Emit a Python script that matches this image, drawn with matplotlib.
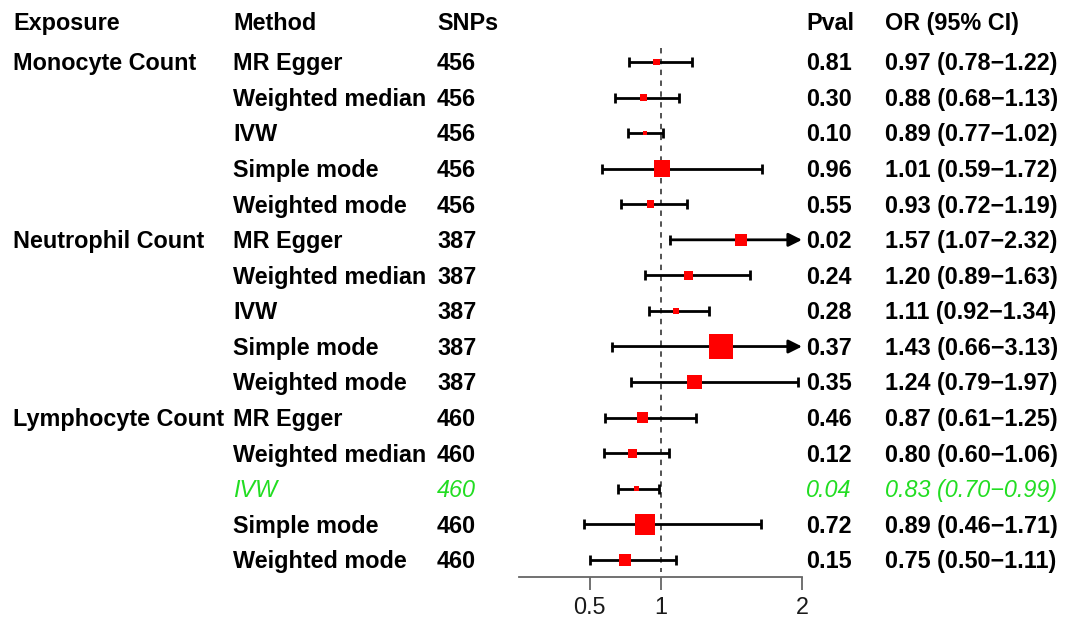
import numpy as np
import matplotlib
matplotlib.use("Agg")
import matplotlib.pyplot as plt
from matplotlib.transforms import blended_transform_factory, offset_copy

# data
exposure = ["Monocyte Count", "", "", "", "",
            "Neutrophil Count", "", "", "", "",
            "Lymphocyte Count", "", "", "", ""]
method = ["MR Egger", "Weighted median", "IVW", "Simple mode", "Weighted mode"] * 3
snps = [456] * 5 + [387] * 5 + [460] * 5
pval = [0.81, 0.30, 0.10, 0.96, 0.55,
        0.02, 0.24, 0.28, 0.37, 0.35,
        0.46, 0.12, 0.04, 0.72, 0.15]
odds = [0.97, 0.88, 0.89, 1.01, 0.93,
        1.57, 1.20, 1.11, 1.43, 1.24,
        0.87, 0.80, 0.83, 0.89, 0.75]
lower = [0.78, 0.68, 0.77, 0.59, 0.72,
         1.07, 0.89, 0.92, 0.66, 0.79,
         0.61, 0.60, 0.70, 0.46, 0.50]
upper = [1.22, 1.13, 1.02, 1.72, 1.19,
         2.32, 1.63, 1.34, 3.13, 1.97,
         1.25, 1.06, 0.99, 1.71, 1.11]
headers = ["Exposure", "Method", "SNPs", "Pval", "OR (95% CI)"]
xticks = [0.5, 1, 2]
xmax = 2

font = "Liberation Sans"
fs = 16.8
green = "#22dd22"

n = len(method)
rows = np.arange(1, n + 1)
odds_a = np.array(odds)
low_a = np.array(lower)
up_a = np.array(upper)

fig = plt.figure(figsize=(10.65, 6.21), dpi=100)
ax = fig.add_axes([519 / 1065, 44 / 621, 283 / 1065, 577 / 621])
ax.set_xlim(0, xmax)
ax.set_ylim(15.48, -0.743)

for s in ["top", "left", "right"]:
    ax.spines[s].set_visible(False)
ax.spines["bottom"].set_color("#666666")
ax.spines["bottom"].set_linewidth(1.3)
ax.set_yticks([])
ax.set_xticks(xticks)
ax.set_xticklabels([f"{t:g}" for t in xticks], fontsize=fs, family=font, color="#1a1a1a")
ax.tick_params(axis="x", length=9.5, width=1.3, color="#666666", pad=4)

# reference line at OR = 1
ax.vlines(1, 0.61, 15.34, colors="#444444", linestyles=(0, (3, 3)), linewidth=1.3, zorder=1)

# confidence intervals
lw = 2.0
clipped = up_a > xmax
ax.hlines(rows[~clipped], low_a[~clipped], up_a[~clipped], color="black", lw=lw, zorder=2)
ax.plot(low_a, rows, ls="none", marker="|", ms=7.5, mew=lw, color="black", zorder=2)
ax.plot(up_a[~clipped], rows[~clipped], ls="none", marker="|", ms=7.5, mew=lw, color="black", zorder=2)
for r, lo in zip(rows[clipped], low_a[clipped]):
    ax.annotate("", xy=(xmax, r), xytext=(lo, r),
                arrowprops=dict(arrowstyle="-|>", lw=lw, color="black",
                                mutation_scale=20, shrinkA=0, shrinkB=0),
                zorder=2)

# boxes, side proportional to the log CI width (se)
side_px = 15.5 * np.log(up_a / low_a)
ax.scatter(odds_a, rows, marker="s", s=(side_px * 0.72) ** 2, color="red", linewidths=0, zorder=3)

# text columns
col_x = [13, 233, 437, 806, 885]
trans = blended_transform_factory(fig.transFigure, ax.transData)
trans = offset_copy(trans, fig=fig, x=0, y=-6.0, units="points")

def put(col, row, txt, color="black", style="normal"):
    ax.text(col_x[col] / 1065, row, txt, transform=trans, ha="left", va="baseline",
            fontsize=fs, family=font, weight="bold" if style == "normal" else "normal",
            style=style, color=color, clip_on=False)

for c, h in enumerate(headers):
    put(c, -0.12, h)

for i in range(n):
    hl = method[i] == "IVW" and pval[i] < 0.05
    color = green if hl else "black"
    style = "italic" if hl else "normal"
    r = rows[i]
    if exposure[i]:
        put(0, r, exposure[i])
    put(1, r, method[i], color, style)
    put(2, r, str(snps[i]), color, style)
    put(3, r, f"{pval[i]:.2f}", color, style)
    put(4, r, f"{odds[i]:.2f} ({lower[i]:.2f}\u2212{upper[i]:.2f})", color, style)

fig.savefig("out.png", dpi=100)
